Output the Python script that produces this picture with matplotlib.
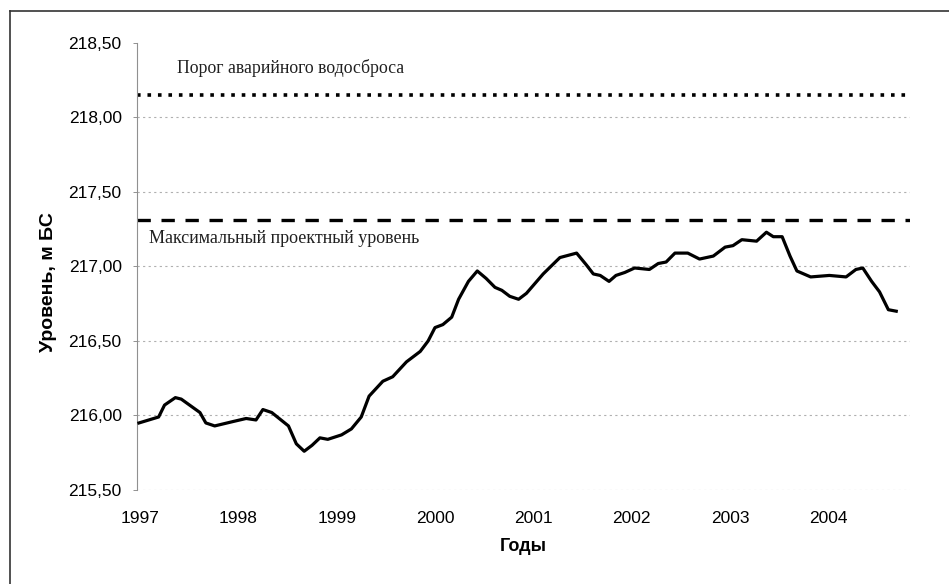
import matplotlib.pyplot as plt
from matplotlib.ticker import FuncFormatter
from matplotlib.lines import Line2D

# Reservoir level readings (decimal year, m BS)
years = [1997.02, 1997.22, 1997.28, 1997.39, 1997.45, 1997.64, 1997.70, 1997.79,
         1997.98, 1998.11, 1998.21, 1998.28, 1998.37, 1998.54, 1998.62, 1998.70,
         1998.78, 1998.86, 1998.94, 1999.08, 1999.18, 1999.28, 1999.36, 1999.50,
         1999.60, 1999.74, 1999.88, 1999.96, 2000.03, 2000.11, 2000.20, 2000.27,
         2000.37, 2000.46, 2000.55, 2000.64, 2000.71, 2000.79, 2000.88, 2000.96,
         2001.13, 2001.30, 2001.47, 2001.57, 2001.64, 2001.71, 2001.80, 2001.87,
         2001.96, 2002.06, 2002.21, 2002.30, 2002.38, 2002.47, 2002.60, 2002.72,
         2002.86, 2002.98, 2003.06, 2003.15, 2003.30, 2003.40, 2003.47, 2003.56,
         2003.64, 2003.71, 2003.85, 2004.04, 2004.21, 2004.31, 2004.38, 2004.47,
         2004.55, 2004.64, 2004.72]
level = [215.95, 215.99, 216.07, 216.12, 216.11, 216.02, 215.95, 215.93,
         215.96, 215.98, 215.97, 216.04, 216.02, 215.93, 215.81, 215.76,
         215.80, 215.85, 215.84, 215.87, 215.91, 215.99, 216.13, 216.23,
         216.26, 216.36, 216.43, 216.50, 216.59, 216.61, 216.66, 216.78,
         216.90, 216.97, 216.92, 216.86, 216.84, 216.80, 216.78, 216.82,
         216.95, 217.06, 217.09, 217.01, 216.95, 216.94, 216.90, 216.94,
         216.96, 216.99, 216.98, 217.02, 217.03, 217.09, 217.09, 217.05,
         217.07, 217.13, 217.14, 217.18, 217.17, 217.23, 217.20, 217.20,
         217.07, 216.97, 216.93, 216.94, 216.93, 216.98, 216.99, 216.90,
         216.83, 216.71, 216.70]

spillway_level = 218.15   # Порог аварийного водосброса
design_level = 217.31     # Максимальный проектный уровень
year_labels = [1997, 1998, 1999, 2000, 2001, 2002, 2003, 2004]

plt.rcParams['font.family'] = ['Liberation Sans', 'DejaVu Sans']

fig = plt.figure(figsize=(9.49, 5.84), dpi=100)
ax = fig.add_axes([137 / 949, 1 - 490 / 584, (910 - 137) / 949, (490 - 43) / 584])

ax.set_xlim(1997, 2004.86)
ax.set_ylim(215.5, 218.5)

# gridlines
for v in [215.5, 216.0, 216.5, 217.0, 217.5, 218.0]:
    ax.axhline(v, color='#b0b0b0', lw=0.8, ls=(0, (2, 3)), zorder=1)

ax.axhline(spillway_level, color='black', lw=2.6, ls=(0, (1, 1.9)), zorder=2)
ax.axhline(design_level, color='black', lw=2.4, ls=(0, (4, 3.2)), zorder=2)

ax.plot(years, level, color='black', lw=2.3, zorder=3)

ax.text(1997.41, 218.33, 'Порог аварийного водосброса', family='Liberation Serif',
        fontsize=12.8, color='#202020', va='center', ha='left')
ax.text(1997.12, 217.19, 'Максимальный проектный уровень', family='Liberation Serif',
        fontsize=13, color='#202020', va='center', ha='left')

ax.set_yticks([215.5, 216.0, 216.5, 217.0, 217.5, 218.0, 218.5])
ax.yaxis.set_major_formatter(FuncFormatter(lambda v, p: f'{v:.2f}'.replace('.', ',')))
ax.set_xticks([y + 0.03 for y in year_labels])
ax.set_xticklabels([str(y) for y in year_labels])
ax.tick_params(axis='x', length=0, pad=15, labelsize=12.5)
ax.tick_params(axis='y', length=3, width=0.6, color='#808080', pad=8, labelsize=12.5)

for s in ['top', 'right', 'bottom']:
    ax.spines[s].set_visible(False)
ax.spines['left'].set_color('#909090')
ax.spines['left'].set_linewidth(0.8)
ax.spines['left'].set_linestyle((0, (2, 1)))

ax.set_xlabel('Годы', fontsize=13, fontweight='bold', labelpad=9)
ax.set_ylabel('Уровень, м БС', fontsize=14, fontweight='bold')
ax.yaxis.set_label_coords(-0.103, 0.465)

# outer frame (top and left edges)
fig.add_artist(Line2D([10 / 949, 1], [1 - 11 / 584, 1 - 11 / 584], color='#333333', lw=1.2))
fig.add_artist(Line2D([10 / 949, 10 / 949], [0, 1 - 11 / 584], color='#333333', lw=1.2))

plt.savefig('out.png', dpi=100)
